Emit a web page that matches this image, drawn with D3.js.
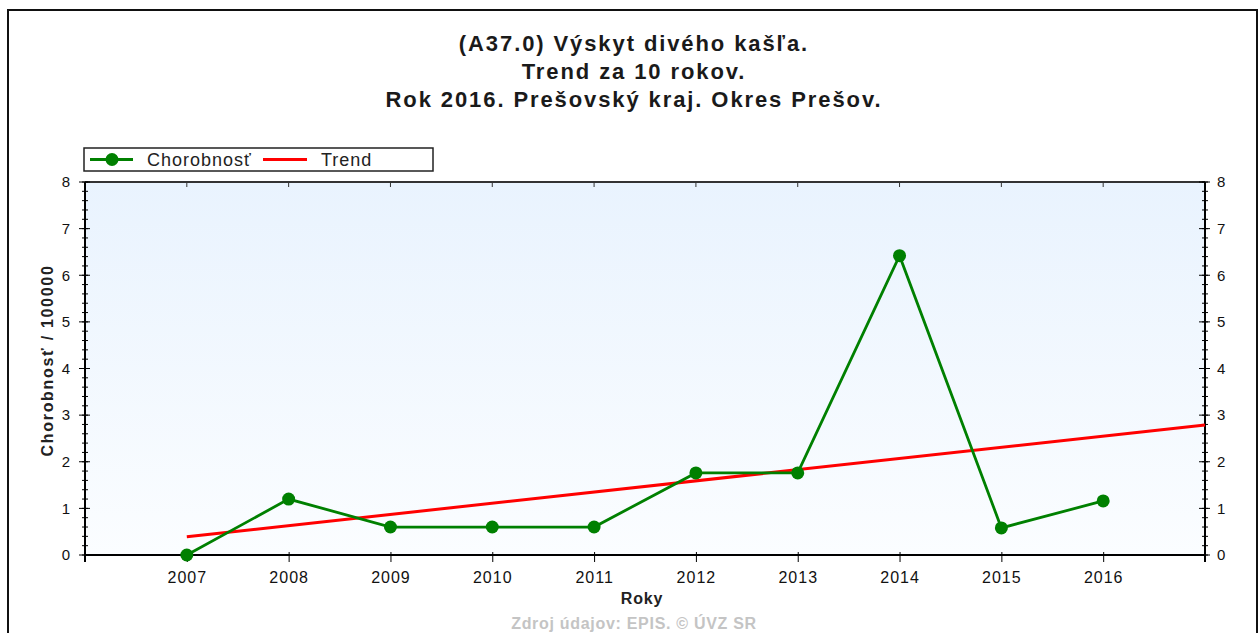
<!DOCTYPE html>
<html>
<head>
<meta charset="utf-8">
<script src="https://cdn.jsdelivr.net/npm/d3@7"></script>
<style>
  body { margin: 0; background: #fff; }
  svg { display: block; font-family: "Liberation Sans", Arial, sans-serif; }
</style>
</head>
<body>
<div id="chart"></div>
<script>
// data
var years = [2007, 2008, 2009, 2010, 2011, 2012, 2013, 2014, 2015, 2016];
var incidence = [0, 1.2, 0.6, 0.6, 0.6, 1.76, 1.76, 6.42, 0.58, 1.16];
var trendYears = [2007, 2017];
var trendValues = [0.39, 2.79];
var yTicks = [0, 1, 2, 3, 4, 5, 6, 7, 8];
var titleLines = ["(A37.0) Výskyt divého kašľa.", "Trend za 10 rokov.", "Rok 2016. Prešovský kraj. Okres Prešov."];
var legendLabels = ["Chorobnosť", "Trend"];

var W = 1260, H = 633;
var margin = { top: 182, right: 55, bottom: 78, left: 85 },
    width = W - margin.left - margin.right,
    height = H - margin.top - margin.bottom;

var svg = d3.select("#chart").append("svg")
    .attr("width", W)
    .attr("height", H);

var defs = svg.append("defs");
var grad = defs.append("linearGradient")
    .attr("id", "bg").attr("x1", 0).attr("y1", 0).attr("x2", 0).attr("y2", 1);
grad.append("stop").attr("offset", "0%").attr("stop-color", "#e9f3fe");
grad.append("stop").attr("offset", "100%").attr("stop-color", "#fbfdff");

// outer frame
svg.append("rect")
    .attr("x", 8).attr("y", 10)
    .attr("width", 1249).attr("height", 640)
    .style("fill", "none")
    .style("stroke", "#111")
    .style("stroke-width", "2px");

// title
svg.append("g").selectAll("text")
    .data(titleLines).enter()
    .append("text")
    .attr("x", 634)
    .attr("y", function (d, i) { return 51 + i * 28; })
    .style("text-anchor", "middle")
    .style("font-size", "22px")
    .style("font-weight", "700")
    .style("letter-spacing", "1.9px")
    .style("fill", "#1a1a1a")
    .text(function (d) { return d; });

var x = d3.scaleLinear()
    .domain([2006, 2017])
    .range([0, width]);
var y = d3.scaleLinear()
    .domain([0, 8])
    .range([height, 0]);

var g = svg.append("g")
    .attr("transform", "translate(" + margin.left + "," + margin.top + ")");

g.append("rect")
    .attr("width", width).attr("height", height)
    .style("fill", "url(#bg)");

// top border + top ticks
g.append("line")
    .attr("x1", 0).attr("x2", width).attr("y1", 0).attr("y2", 0)
    .style("stroke", "#333").style("stroke-width", "2px");
g.selectAll("line.topTick")
    .data(years).enter()
    .append("line")
    .attr("class", "topTick")
    .attr("x1", function (d) { return x(d); })
    .attr("x2", function (d) { return x(d); })
    .attr("y1", 0).attr("y2", 5)
    .style("stroke", "#333").style("stroke-width", "1px");

// bottom axis
var xAxis = d3.axisBottom(x)
    .tickValues(years)
    .tickFormat(d3.format("d"))
    .tickSize(7)
    .tickPadding(10);
var gx = g.append("g")
    .attr("class", "x axis")
    .attr("transform", "translate(0," + height + ")")
    .call(xAxis);
gx.selectAll(".tick line").attr("y1", -3);
gx.select(".domain").attr("d", "M0,7V0H" + width + "V7");
gx.selectAll("text")
    .style("font-size", "16px")
    .style("letter-spacing", "1px");

// minor ticks on both side axes
var minor = d3.range(0, 8.01, 0.2);

function sideAxis(axisFn, xpos, pad) {
    var ax = g.append("g")
        .attr("class", "y axis")
        .attr("transform", "translate(" + xpos + ",0)")
        .call(axisFn(y).tickValues(yTicks).tickFormat(d3.format("d")).tickSize(0).tickPadding(pad));
    ax.select(".domain").remove();
    ax.selectAll("text").style("font-size", "15px");
    ax.selectAll("line.minor")
        .data(minor).enter()
        .append("line")
        .attr("x1", -3).attr("x2", 3)
        .attr("y1", function (d) { return y(d); })
        .attr("y2", function (d) { return y(d); })
        .style("stroke", "#000");
    ax.selectAll("line.major")
        .data(yTicks).enter()
        .append("line")
        .attr("x1", -6).attr("x2", 5)
        .attr("y1", function (d) { return y(d); })
        .attr("y2", function (d) { return y(d); })
        .style("stroke", "#000");
    ax.append("line")
        .attr("x1", 0).attr("x2", 0)
        .attr("y1", 0).attr("y2", height)
        .style("stroke", "#000").style("stroke-width", "2px");
    return ax;
}
sideAxis(d3.axisLeft, 0, 15);
sideAxis(d3.axisRight, width, 12);

svg.selectAll(".axis text")
    .style("fill", "#111")
    .style("font-family", "'Liberation Sans', Arial, sans-serif");
svg.selectAll(".x.axis line, .x.axis path").style("stroke", "#000");
svg.selectAll(".x.axis path").style("stroke-width", "2px").style("fill", "none");

// axis titles
g.append("text")
    .attr("transform", "rotate(-90)")
    .attr("x", -height / 2 + 8)
    .attr("y", -32)
    .style("text-anchor", "middle")
    .style("font-size", "16px")
    .style("font-weight", "700")
    .style("letter-spacing", "1.7px")
    .style("fill", "#222")
    .text("Chorobnosť / 100000");
g.append("text")
    .attr("x", width / 2 - 3)
    .attr("y", height + 49)
    .style("text-anchor", "middle")
    .style("font-size", "16px")
    .style("font-weight", "700")
    .style("letter-spacing", "0.8px")
    .style("fill", "#222")
    .text("Roky");
svg.append("text")
    .attr("x", 634)
    .attr("y", 629)
    .style("text-anchor", "middle")
    .style("font-size", "16px")
    .style("font-weight", "700")
    .style("letter-spacing", "0.7px")
    .style("fill", "#c4c4c4")
    .text("Zdroj údajov: EPIS. © ÚVZ SR");

// trend line
var line = d3.line()
    .x(function (d) { return x(d[0]); })
    .y(function (d) { return y(d[1]); });
g.append("path")
    .datum(d3.zip(trendYears, trendValues))
    .attr("d", line)
    .style("fill", "none")
    .style("stroke", "#ff0000")
    .style("stroke-width", "3px");

// incidence series
g.append("path")
    .datum(d3.zip(years, incidence))
    .attr("d", line)
    .style("fill", "none")
    .style("stroke", "#008000")
    .style("stroke-width", "2.8px");
g.selectAll("circle.pt")
    .data(d3.zip(years, incidence)).enter()
    .append("circle")
    .attr("class", "pt")
    .attr("cx", function (d) { return x(d[0]); })
    .attr("cy", function (d) { return y(d[1]); })
    .attr("r", 6.5)
    .style("fill", "#008000");

// legend
var legend = svg.append("g").attr("transform", "translate(84,148)");
legend.append("rect")
    .attr("width", 349).attr("height", 23)
    .style("fill", "#fff")
    .style("stroke", "#222")
    .style("stroke-width", "1.5px");
legend.append("line")
    .attr("x1", 6).attr("x2", 49).attr("y1", 11.5).attr("y2", 11.5)
    .style("stroke", "#008000").style("stroke-width", "3px");
legend.append("circle")
    .attr("cx", 28).attr("cy", 11.5).attr("r", 6.5)
    .style("fill", "#008000");
legend.append("line")
    .attr("x1", 179).attr("x2", 223).attr("y1", 11.5).attr("y2", 11.5)
    .style("stroke", "#ff0000").style("stroke-width", "3px");
legend.selectAll("text")
    .data(legendLabels).enter()
    .append("text")
    .attr("x", function (d, i) { return i === 0 ? 63 : 237; })
    .attr("y", 18)
    .style("font-size", "18px")
    .style("letter-spacing", "1px")
    .style("fill", "#222")
    .text(function (d) { return d; });
</script>
</body>
</html>
